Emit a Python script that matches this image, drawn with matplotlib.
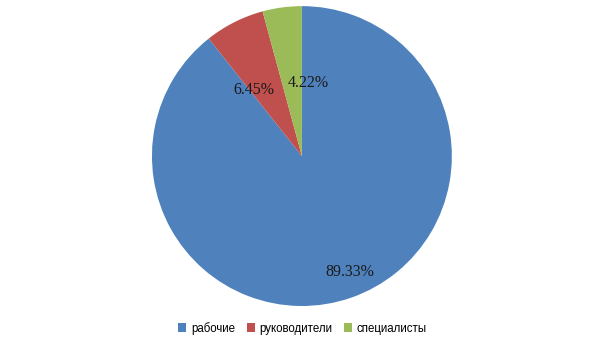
import matplotlib.pyplot as plt
from matplotlib.patches import Patch

categories = ['рабочие', 'руководители', 'специалисты']
shares = [89.33, 6.45, 4.22]
colors = ['#4F81BD', '#C0504D', '#9BBB59']

fig = plt.figure(figsize=(6.05, 3.4), dpi=100)
ax = fig.add_axes([0.251, 0.1, 0.496, 0.882])

wedges, texts, autotexts = ax.pie(shares, colors=colors, startangle=90, counterclock=False,
                                  autopct='%.2f%%', wedgeprops={'linewidth': 0},
                                  textprops={'family': 'Liberation Serif', 'fontsize': 11.5, 'color': '#1a1a1a'})
ax.set_xlim(-1, 1)
ax.set_ylim(-1, 1)
ax.set_aspect('equal')

# Excel-like label placement
label_pos = [(0.32, -0.775), (-0.32, 0.44), (0.04, 0.49)]
for t, p in zip(autotexts, label_pos):
    t.set_position(p)

handles = [Patch(facecolor=c, edgecolor='none') for c in colors]
fig.legend(handles, categories, loc='center', bbox_to_anchor=(0.5, 0.035), ncol=3,
           frameon=False, prop={'family': 'Liberation Sans', 'size': 8.3},
           handlelength=0.7, handleheight=0.7, handletextpad=0.4, columnspacing=1.0)

fig.savefig('out.png', dpi=100)
